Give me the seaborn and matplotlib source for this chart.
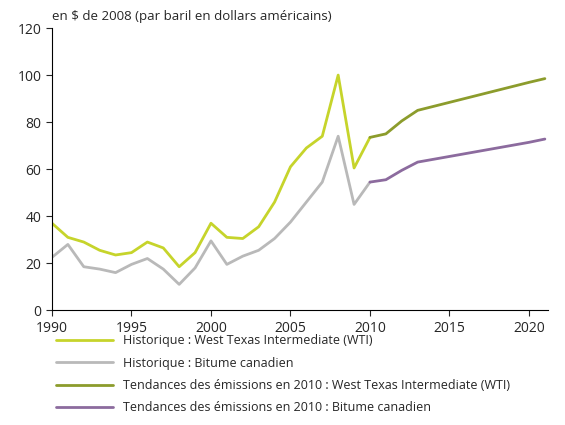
import seaborn as sns
import matplotlib.pyplot as plt
import pandas as pd

hist_years = list(range(1990, 2011))
wti_hist = [37, 31, 29, 25.5, 23.5, 24.5, 29, 26.5, 18.5, 24.5, 37, 31, 30.5, 35.5,
            46, 61, 69, 74, 100, 60.5, 73.5]
bit_hist = [22.5, 28, 18.5, 17.5, 16, 19.5, 22, 17.5, 11, 18, 29.5, 19.5, 23, 25.5,
            30.5, 37.5, 46, 54.5, 74, 45, 54.5]

proj_years = list(range(2010, 2022))
wti_proj = [73.5, 75, 80.5, 85, 86.7, 88.4, 90.1, 91.8, 93.5, 95.2, 96.9, 98.5]
bit_proj = [54.5, 55.5, 59.5, 63, 64.2, 65.4, 66.6, 67.8, 69, 70.2, 71.4, 72.8]

labels = ["Historique : West Texas Intermediate (WTI)",
          "Historique : Bitume canadien",
          "Tendances des émissions en 2010 : West Texas Intermediate (WTI)",
          "Tendances des émissions en 2010 : Bitume canadien"]
colors = ["#c6d42b", "#b9b9b9", "#8c9c2c", "#8c6b9e"]

frames = [
    pd.DataFrame({"year": hist_years, "value": wti_hist, "series": labels[0]}),
    pd.DataFrame({"year": hist_years, "value": bit_hist, "series": labels[1]}),
    pd.DataFrame({"year": proj_years, "value": wti_proj, "series": labels[2]}),
    pd.DataFrame({"year": proj_years, "value": bit_proj, "series": labels[3]}),
]
df = pd.concat(frames)

sns.set_style("white")
plt.rcParams["font.family"] = ["Open Sans", "DejaVu Sans"]

fig = plt.figure(figsize=(5.65, 4.25), dpi=100)
ax = fig.add_axes([0.092, 0.27, 0.878, 0.664])
sns.lineplot(data=df, x="year", y="value", hue="series", hue_order=labels,
             palette=colors, linewidth=2, ax=ax, legend=False)

ax.set_xlim(1990, 2021.2)
ax.set_ylim(0, 120)
ax.set_xticks(range(1990, 2021, 5))
ax.set_yticks(range(0, 121, 20))
ax.set_xlabel("")
ax.set_ylabel("")
ax.tick_params(axis="both", direction="out", length=4, labelsize=10, left=True, bottom=True)
sns.despine(ax=ax)
for s in ["left", "bottom"]:
    ax.spines[s].set_color("black")
fig.text(0.092, 0.945, "en $ de 2008 (par baril en dollars américains)", fontsize=9.5, va="bottom")

handles = [plt.Line2D([], [], color=c, linewidth=2) for c in colors]
fig.legend(handles, labels, loc="upper left", bbox_to_anchor=(0.08, 0.24),
           frameon=False, fontsize=9, handlelength=4.5, labelspacing=0.75)

fig.savefig("out.png", dpi=100)
